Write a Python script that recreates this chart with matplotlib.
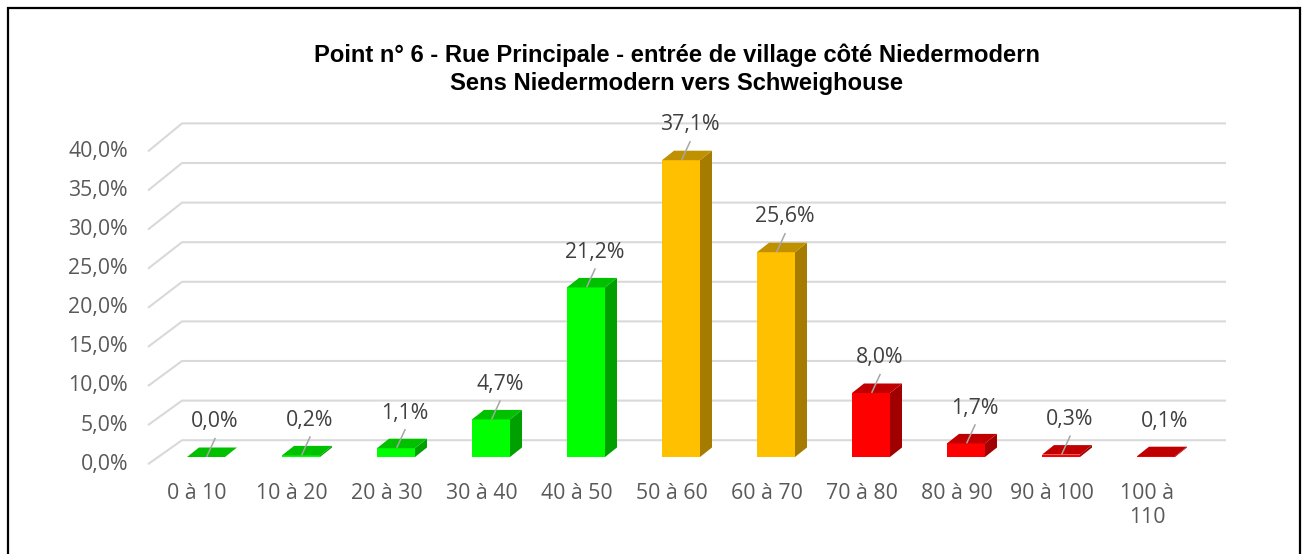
import matplotlib
matplotlib.use("Agg")
import matplotlib.pyplot as plt
from matplotlib.patches import Polygon, Rectangle

# ── Data ──────────────────────────────────────────────────────────────────────
TITLE_1 = "Point n° 6 - Rue Principale - entrée de village côté Niedermodern"
TITLE_2 = "Sens Niedermodern vers Schweighouse"
categories = ["0 à 10", "10 à 20", "20 à 30", "30 à 40", "40 à 50", "50 à 60",
              "60 à 70", "70 à 80", "80 à 90", "90 à 100", "100 à\n110"]
values = [0.0, 0.2, 1.1, 4.7, 21.2, 37.1, 25.6, 8.0, 1.7, 0.3, 0.1]
zones = ["vert", "vert", "vert", "vert", "vert", "jaune", "jaune",
         "rouge", "rouge", "rouge", "rouge"]
y_ticks = [0, 5, 10, 15, 20, 25, 30, 35, 40]

# front, top, side
PALETTE = {
    "vert": ("#00FF00", "#00C000", "#00A000"),
    "jaune": ("#FFC000", "#BF9000", "#A67C00"),
    "rouge": ("#FF0000", "#C00000", "#A00000"),
}

# ── Geometry (pixel layout of the Excel 3D column chart) ─────────────────────
W, H = 1306, 554
X0_PX, STEP_PX = 206, 95      # centre of first bar, spacing
Y0_PX, PX_PCT = 457, 8.0      # bar base, pixels per percent
BAR_W = 38 / STEP_PX
DX, DY = 12 / STEP_PX, 9.5 / PX_PCT   # depth offset of top/side faces


def px_x(px):
    return (px - X0_PX) / STEP_PX


def px_y(py):
    return (Y0_PX - py) / PX_PCT


fig = plt.figure(figsize=(W / 100, H / 100), dpi=100)
ax = fig.add_axes([100 / W, (H - 500) / H, 1160 / W, 400 / H])
ax.set_xlim(px_x(100), px_x(1260))
ax.set_ylim(px_y(500), px_y(100))
ax.axis("off")

LABEL_FONT = ["Open Sans", "DejaVu Sans"]
FS = 15.3
GRID = "#D9D9D9"

# back wall gridlines + floor diagonals
x_front, x_back, x_end = px_x(148), px_x(182), px_x(1226)
for t in y_ticks:
    y_f = t * 0.9775 - 0.9
    y_b = t * 0.99 + 2.1
    ax.plot([x_front, x_back, x_end], [y_f, y_b, y_b], color=GRID, lw=1.5,
            zorder=1, solid_capstyle="butt")
    ax.text(px_x(128), y_f, f"{t:.1f}%".replace(".", ","), ha="right",
            va="center", fontsize=FS, color="#595959", family=LABEL_FONT)

# bars: front faces through ax.bar, top and side faces as polygons
xs = list(range(len(values)))
fronts = [PALETTE[z][0] for z in zones]
ax.bar(xs, values, width=BAR_W, color=fronts, linewidth=0, zorder=3)
for x, v, z in zip(xs, values, zones):
    _, top_c, side_c = PALETTE[z]
    l, r = x - BAR_W / 2, x + BAR_W / 2
    ax.add_patch(Polygon([(r, 0), (r + DX, DY), (r + DX, v + DY), (r, v)],
                         closed=True, facecolor=side_c, edgecolor="none", zorder=3))
    ax.add_patch(Polygon([(l, v), (r, v), (r + DX, v + DY), (l + DX, v + DY)],
                         closed=True, facecolor=top_c, edgecolor="none", zorder=4))
    # data label with leader line (Excel drops the last, too-short one)
    lx = x + 9 / STEP_PX
    if x < len(values) - 1:
        ax.plot([x + 0.01, lx], [v + 0.1, v + 2.3], color="#A6A6A6", lw=1.1, zorder=5)
    ax.text(lx, v + 4.4, f"{v:.1f}%".replace(".", ","), ha="center", va="center",
            fontsize=FS, color="#404040", family=LABEL_FONT, zorder=6)

# category labels
for x, cat in zip(xs, categories):
    ax.text(x - 9 / STEP_PX, px_y(483), cat, ha="center", va="top",
            fontsize=FS, color="#595959", family=LABEL_FONT, linespacing=1.2)

# title
for text, py in [(TITLE_1, 62), (TITLE_2, 90)]:
    fig.text(677 / W, 1 - py / H, text, ha="center", va="baseline", fontsize=17.1,
             fontweight="bold", family=["Liberation Sans", "DejaVu Sans"], color="black")

# chart border (runs off the bottom edge as in the source)
fig.patches.append(Rectangle((8 / W, -0.1), 1292 / W, 1.1 - 8 / H, fill=False,
                             edgecolor="black", lw=1.6, transform=fig.transFigure))

fig.savefig("out.png", dpi=100)
